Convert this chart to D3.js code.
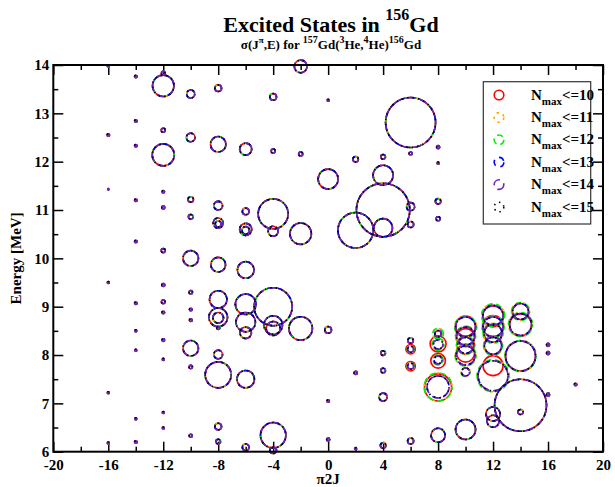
<!DOCTYPE html>
<html><head><meta charset="utf-8">
<script src="https://cdn.jsdelivr.net/npm/d3@7"></script>
<style>
body{margin:0;background:#fff}
svg{display:block}
</style>
</head><body><svg id="c" width="615" height="487"></svg>
<script>
// ---- data: [pi2J, E (MeV), sigma (relative)] ----
const xMajor = [-20,-16,-12,-8,-4,0,4,8,12,16,20];
const xMinor = [-18,-14,-10,-6,-2,2,6,10,14,18];
const yMajor = [6,7,8,9,10,11,12,13,14];
const yMinor = [6.5,7.5,8.5,9.5,10.5,11.5,12.5,13.5];
const nmaxNames = ["10","11","12","13","14","15"];

const statesShared = [
 [-16,13.98,1],[-16,12.55,1.2],[-16,11.43,0.6],[-16,9.5,1],[-16,7.22,1],[-16,6.18,1],
 [-14,13.76,1.2],[-14,12.84,1.2],[-14,12.33,1.2],[-14,11.2,1.2],[-14,10.35,1.2],[-14,9.07,1.2],[-14,8.5,1],[-14,8.1,1],[-14,6.68,1],[-14,6.2,1.2],
 [-12,13.83,1.8],[-12,13.57,10.7],[-12,12.65,2],[-12,12.14,11],[-12,11.38,1.2],[-12,11.05,1.5],[-12,10.16,2],[-12,9.45,1.5],[-12,9.1,1.8],[-12,8.88,1.3],[-12,8.31,1.3],[-12,7.91,1],[-12,6.81,1],[-12,6.49,1],
 [-10,13.4,4],[-10,12.5,4.3],[-10,11.22,2.7],[-10,10.86,2.3],[-10,10.0,7.7],[-10,9.3,1.7],[-10,8.94,1.3],[-10,8.72,1.3],[-10,8.14,7.7],[-10,7.75,1.7],[-10,6.33,1.5],
 [-8,13.52,3.3],[-8,12.36,7.7],[-8,11.09,4.3],[-8,10.73,5],[-8,10.71,3],[-8,9.87,7.3],[-8,9.15,8.7],[-8,8.78,9.3],[-8,8.77,5.3],[-8,8.56,1.5],[-8,8.01,4.3],[-8,7.59,13],[-8,6.52,3.3],[-8,6.21,2.3],
 [-6,12.26,6],[-6,10.97,3.3],[-6,10.6,6],[-6,10.58,3.7],[-6,9.76,8.3],[-6,9.05,10.3],[-6,8.68,9.7],[-6,8.46,5.7],[-6,7.5,8.7],[-6,6.09,3.3],
 [-4,13.34,3.3],[-4,12.22,2],[-4,10.92,15],[-4,10.56,5],[-4,9.0,19],[-4,8.62,9.3],[-4,8.55,7],[-4,6.34,12.7],[-4,6.03,3.3],
 [-2,13.97,6.3],[-2,12.16,2],[-2,10.51,10.7],[-2,8.55,11.7],
 [0,13.27,1],[0,11.64,10],[0,8.52,3.3],[0,7.05,1.2],[0,6.25,1.5],
 [2,12.05,2.7],[2,10.58,17.7],[2,7.63,1.5],[2,6.06,1],
 [4,12.1,2.3],[4,11.72,10],[4,11.0,26.7],[4,10.63,9.3],[4,8.04,2.3],[4,7.68,2.3],[4,7.13,4],[4,6.13,2.7],
 [6,12.81,25],[6,12.17,1.5],[6,11.07,4],[6,10.7,3],[6,8.3,2.7],[6,6.22,3],
 [8,12.3,1.5],[8,11.97,1],[8,11.18,2.7],[8,10.82,2],[8,6.34,7],
 [10,6.46,10],
 [12,6.78,7],[12,6.63,6],
 [14,6.96,26],[14,6.82,2.5],
 [16,8.21,1.5],[16,8.04,1.5],[16,7.18,1.5],
 [18,7.39,1.2]
];

const clusterNmax10 = [
 [6,8.12,4.7],[6,7.77,4.7],
 [8,8.44,3],[8,8.23,8],[8,7.88,7.3],[8,7.33,13.5],
 [10,8.6,10],[10,8.36,9],[10,8.2,9],[10,8.04,9],
 [12,8.8,10.5],[12,8.6,10.5],[12,8.45,9],[12,8.2,9],[12,7.78,10],
 [14,8.9,8],[14,8.62,11],[14,7.98,15]
];
const clusterNmax11to12 = [
 [6,8.12,3.5],[6,7.77,3.5],
 [8,8.44,5.3],[8,8.22,6],[8,7.9,5],[8,7.34,14],
 [10,8.58,11],[10,8.39,10],[10,8.2,9],[10,7.99,10.5],[10,7.65,4.5],
 [12,8.82,11.5],[12,8.58,11],[12,8.45,10],[12,8.19,9.5],[12,7.57,16],
 [14,8.9,9],[14,8.63,12],[14,7.98,15.5]
];
const clusterNmax13to15 = [
 [6,8.12,3],[6,7.77,3],
 [8,8.44,3.3],[8,8.22,4.7],[8,7.9,4],[8,7.34,11],
 [10,8.58,10],[10,8.39,9],[10,8.2,8],[10,7.99,9.5],[10,7.65,4],
 [12,8.82,10],[12,8.58,10],[12,8.45,9],[12,8.19,8.5],[12,7.57,15],
 [14,8.9,8],[14,8.63,11],[14,7.98,15]
];

// ---- drawing ----
const FONT = "'Liberation Serif', 'Times New Roman', Times, 'DejaVu Serif', serif";
const svg = d3.select("#c");
const L=53.3, R=603, T=65, B=451.7;
const x = d3.scaleLinear().domain([-20,20]).range([L,R]);
const y = d3.scaleLinear().domain([6,14]).range([B,T]);
const rs = d3.scaleLinear().domain([0,30]).range([0,30]);

const styles = [
 {color:"#ff0000", dash:null, off:0},
 {color:"#ffa500", dash:"2.5,4", off:1},
 {color:"#00ee00", dash:"6,4", off:3},
 {color:"#0000ff", dash:"6,5", off:5},
 {color:"#7221bc", dash:"9,5", off:0},
 {color:"#000000", dash:"1.5,4", off:2}
];
const seriesData = [
 statesShared.concat(clusterNmax10),
 statesShared.concat(clusterNmax11to12),
 statesShared.concat(clusterNmax11to12),
 statesShared.concat(clusterNmax13to15),
 statesShared.concat(clusterNmax13to15),
 statesShared.concat(clusterNmax13to15)
];

// axes
function styleAxis(g){
  g.select(".domain").remove();
  g.selectAll("line").attr("stroke","#000").attr("stroke-width",1.5);
  g.selectAll("text").attr("font-size",15).attr("fill","#000");
}
const fmt = d => String(d);
svg.append("g").attr("transform",`translate(0,${B})`)
  .call(d3.axisBottom(x).tickValues(xMajor).tickSizeInner(-10).tickSizeOuter(0).tickPadding(8).tickFormat(fmt)).call(styleAxis);
svg.append("g").attr("transform",`translate(0,${B})`)
  .call(d3.axisBottom(x).tickValues(xMinor).tickSizeInner(-5).tickSizeOuter(0).tickFormat("")).call(styleAxis);
svg.append("g").attr("transform",`translate(0,${T})`)
  .call(d3.axisTop(x).tickValues(xMajor).tickSizeInner(-10).tickSizeOuter(0).tickFormat("")).call(styleAxis);
svg.append("g").attr("transform",`translate(0,${T})`)
  .call(d3.axisTop(x).tickValues(xMinor).tickSizeInner(-5).tickSizeOuter(0).tickFormat("")).call(styleAxis);
svg.append("g").attr("transform",`translate(${L},0)`)
  .call(d3.axisLeft(y).tickValues(yMajor).tickSizeInner(-10).tickSizeOuter(0).tickPadding(4).tickFormat(fmt)).call(styleAxis);
svg.append("g").attr("transform",`translate(${L},0)`)
  .call(d3.axisLeft(y).tickValues(yMinor).tickSizeInner(-5).tickSizeOuter(0).tickFormat("")).call(styleAxis);
svg.append("g").attr("transform",`translate(${R},0)`)
  .call(d3.axisRight(y).tickValues(yMajor).tickSizeInner(-10).tickSizeOuter(0).tickFormat("")).call(styleAxis);
svg.append("g").attr("transform",`translate(${R},0)`)
  .call(d3.axisRight(y).tickValues(yMinor).tickSizeInner(-5).tickSizeOuter(0).tickFormat("")).call(styleAxis);

// circles
seriesData.forEach((data,i)=>{
  svg.append("g").selectAll("circle").data(data).join("circle")
    .attr("cx",d=>x(d[0])).attr("cy",d=>y(d[1])).attr("r",d=>rs(d[2]))
    .attr("fill","none").attr("stroke",styles[i].color).attr("stroke-width",1.6)
    .attr("stroke-dasharray",styles[i].dash).attr("stroke-dashoffset",styles[i].off);
});

// frame
svg.append("rect").attr("x",L).attr("y",T).attr("width",R-L).attr("height",B-T)
  .attr("fill","none").attr("stroke","#000").attr("stroke-width",2);

// legend
const lg = svg.append("g");
lg.append("rect").attr("x",483.3).attr("y",81.7).attr("width",107.4).attr("height",142.3)
  .attr("fill","#fff").attr("stroke","#333").attr("stroke-width",1.2);
nmaxNames.forEach((n,i)=>{
  const cy = 95 + i*22.4;
  lg.append("circle").attr("cx",499).attr("cy",cy).attr("r",rs(4.8))
    .attr("fill","none").attr("stroke",styles[i].color).attr("stroke-width",1.6)
    .attr("stroke-dasharray",styles[i].dash);
  const t = lg.append("text").attr("x",531).attr("y",cy+4.5).attr("font-size",15);
  t.append("tspan").text("N");
  t.append("tspan").attr("font-size",11).attr("dy",5).text("max");
  t.append("tspan").attr("dy",-5).text("<=" + n);
});

// titles
const t1 = svg.append("text").attr("x",331).attr("y",31.5).attr("text-anchor","middle").attr("font-size",22);
t1.append("tspan").text("Excited States in ");
t1.append("tspan").attr("font-size",16).attr("dy",-12).text("156");
t1.append("tspan").attr("dy",12).text("Gd");

const t2 = svg.append("text").attr("x",331).attr("y",48.5).attr("text-anchor","middle").attr("font-size",13);
t2.append("tspan").text("σ(J");
t2.append("tspan").attr("font-size",9).attr("dy",-6).text("π");
t2.append("tspan").attr("dy",6).text(",E) for ");
t2.append("tspan").attr("font-size",10).attr("dy",-6).text("157");
t2.append("tspan").attr("dy",6).text("Gd(");
t2.append("tspan").attr("font-size",10).attr("dy",-6).text("3");
t2.append("tspan").attr("dy",6).text("He,");
t2.append("tspan").attr("font-size",10).attr("dy",-6).text("4");
t2.append("tspan").attr("dy",6).text("He)");
t2.append("tspan").attr("font-size",10).attr("dy",-6).text("156");
t2.append("tspan").attr("dy",6).text("Gd");

// axis titles
svg.append("text").attr("x",(L+R)/2).attr("y",484).attr("text-anchor","middle").attr("font-size",15).text("π2J");
svg.append("text").attr("transform",`translate(21,${(T+B)/2}) rotate(-90)`).attr("text-anchor","middle")
  .attr("font-size",15).text("Energy [MeV]");

// fonts for every text
svg.selectAll("text").attr("font-family",FONT).attr("font-weight","bold").attr("fill","#000");
</script>
</body></html>
